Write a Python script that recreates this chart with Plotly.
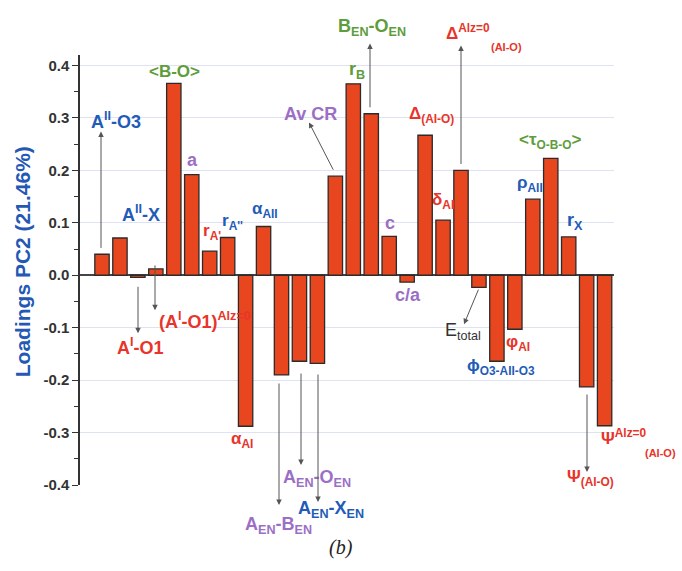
import plotly.graph_objects as go

# ---------------- data ----------------
bar_names = ["A''-O3", "A''-X", "A'-O1", "(A'-O1)Alz=0", "<B-O>", "a", "rA'", "rA''",
             "alphaAI", "alphaAII", "AEN-BEN", "AEN-OEN", "AEN-XEN", "Av CR", "rB",
             "BEN-OEN", "c", "c/a", "Delta(AI-O)", "deltaAI", "DeltaAlz=0(AI-O)",
             "Etotal", "phiO3-AII-O3", "phiAI", "rhoAII", "<tauO-B-O>", "rX",
             "Psi(AI-O)", "PsiAlz=0(AI-O)"]
loadings = [0.040, 0.071, -0.004, 0.012, 0.366, 0.192, 0.046, 0.072,
            -0.288, 0.093, -0.190, -0.164, -0.168, 0.189, 0.365,
            0.308, 0.074, -0.013, 0.267, 0.105, 0.200,
            -0.023, -0.164, -0.103, 0.145, 0.223, 0.073,
            -0.213, -0.287]
tick_vals = [-0.4, -0.3, -0.2, -0.1, 0.0, 0.1, 0.2, 0.3, 0.4]
tick_text = ["-0.4", "-0.3", "-0.2", "-0.1", "0.0", "0.1", "0.2", "0.3", "0.4"]

xs = list(range(len(loadings)))

# plot-area geometry (pixels) used for placing labels
PL, PR, PT, PB = 80.0, 614.0, 54.5, 485.0
X0, DX = 102.0, 17.95     # pixel centre of first bar, spacing
Y0, DY = 275.0, 525.0     # pixel of y=0, pixels per unit
def X(px):
    return (px - X0) / DX
def PX(px):
    return (px - PL) / (PR - PL)
def PY(py):
    return (PB - py) / (PB - PT)
def val_py(v):
    return Y0 - v * DY

BLUE = "#1f5cb8"
RED = "#e8342a"
GREEN = "#5e9c3c"
PURPLE = "#9b6fc6"
DARK = "#333333"
FONT = "Liberation Sans"
FS = 18

fig = go.Figure()
fig.add_trace(go.Bar(
    x=xs, y=loadings, width=0.8,
    marker=dict(color="#e8461f", line=dict(color="#2b2b2b", width=1.3)),
    hoverinfo="skip",
))

ann = []
def label(text, px, py, color, size=FS, bold=True):
    ann.append(dict(x=PX(px), y=PY(py), xref="paper", yref="paper", text=text,
                    showarrow=False,
                    font=dict(family=FONT, size=size, color=color,
                              weight="bold" if bold else "normal"),
                    xanchor="center", yanchor="middle"))

def arrow(tail_px, tail_py, head_px, head_py):
    ann.append(dict(x=PX(head_px), y=PY(head_py), ax=tail_px - head_px, ay=tail_py - head_py,
                    xref="paper", yref="paper", axref="pixel", ayref="pixel", text="",
                    showarrow=True, arrowhead=2, arrowsize=1.1, arrowwidth=1,
                    arrowcolor="#555555", standoff=0, startstandoff=0))

def bar_arrow(i, head_px, head_py, tail_px=None):
    v = loadings[i]
    ty = val_py(v) + (-5 if v >= 0 else 8)
    tx = X0 + xs[i] * DX if tail_px is None else tail_px
    arrow(tx, ty, head_px, head_py)

# labels
label("A<sup>II</sup>-O3", 116, 120, BLUE)
bar_arrow(0, 101, 131, 101)
label("A<sup>II</sup>-X", 141, 213, BLUE)
label("A<sup>I</sup>-O1", 140, 346, RED)
bar_arrow(2, 138, 333, 138)
label("(A<sup>I</sup>-O1)<sup>Alz=0</sup>", 205, 320, RED)
bar_arrow(3, 155, 310, 155)
label("&lt;B-O&gt;", 174, 71, GREEN, 17)
label("a", 192, 160, PURPLE)
label("r<sub>A'</sub>", 212, 232, RED, 17)
label("r<sub>A''</sub>", 232, 222, BLUE, 17)
label("α<sub>AI</sub>", 242, 440, RED, 17)
label("α<sub>AII</sub>", 265, 210, BLUE, 17)
label("A<sub>EN</sub>-B<sub>EN</sub>", 278, 526, PURPLE)
arrow(279, 382, 279, 505)
label("A<sub>EN</sub>-O<sub>EN</sub>", 317, 478, PURPLE)
arrow(301, 372, 301, 465)
label("A<sub>EN</sub>-X<sub>EN</sub>", 331, 510, BLUE)
arrow(318, 373, 318, 502)
label("Av CR", 310, 114, PURPLE)
bar_arrow(13, 309, 122, 334)
label("r<sub>B</sub>", 357, 70, GREEN)
label("B<sub>EN</sub>-O<sub>EN</sub>", 372, 27, GREEN)
bar_arrow(15, 370, 43, 370)
label("c", 390, 223, PURPLE)
label("c/a", 408, 295, PURPLE)
label("Δ<sub>(AI-O)</sub>", 432, 115, RED, 17)
label("δ<sub>AI</sub>", 443, 201, RED, 17)
label("Δ<sup>Alz=0</sup>", 468, 31, RED, 17)
label("(AI-O)", 506, 46, RED, 11)
bar_arrow(20, 461, 45, 461)
label("E<sub>total</sub>", 463, 331, DARK, 18, bold=False)
arrow(479, 288, 464, 324)
label("ϕ<sub>O3-AII-O3</sub>", 501, 367, BLUE, 17)
label("φ<sub>AI</sub>", 518, 343, RED, 17)
label("ρ<sub>AII</sub>", 530, 184, BLUE, 17)
label("&lt;τ<sub>O-B-O</sub>&gt;", 550, 141, GREEN, 17)
label("r<sub>X</sub>", 575, 221, BLUE)
label("Ψ<sub>(AI-O)</sub>", 590, 478, RED, 17)
arrow(587, 393, 587, 472)
label("Ψ<sup>Alz=0</sup>", 624, 437, RED, 17)
label("(AI-O)", 660, 453, RED, 11)

# axis title and caption
ann.append(dict(x=PX(22), y=PY(262), xref="paper", yref="paper",
                text="Loadings PC2 (21.46%)", textangle=-90, showarrow=False,
                font=dict(family=FONT, size=21, color="#2458b5", weight="bold"),
                xanchor="center", yanchor="middle"))
ann.append(dict(x=PX(341), y=PY(548), xref="paper", yref="paper", text="(b)",
                showarrow=False, font=dict(family="Liberation Serif", size=20,
                                           color="#222", style="italic"),
                xanchor="center", yanchor="middle"))

fig.update_layout(
    width=682, height=571,
    margin=dict(l=80, r=68, t=54.5, b=86),
    paper_bgcolor="white", plot_bgcolor="white",
    showlegend=False,
    annotations=ann,
    xaxis=dict(range=[X(PL), X(PR)], showgrid=False, zeroline=False,
               showticklabels=False, ticks="", showline=False, fixedrange=True),
    yaxis=dict(range=[-0.4, 0.42], tickvals=tick_vals, ticktext=tick_text,
               showgrid=True, gridcolor="#dfe2f2", gridwidth=1,
               zeroline=True, zerolinecolor="#444444", zerolinewidth=1.5,
               showline=True, linecolor="#333333", linewidth=1.5,
               ticks="outside", ticklen=6, tickwidth=1.3, tickcolor="#333333",
               minor=dict(dtick=0.05, ticks="outside", ticklen=4, tickwidth=1.2,
                          tickcolor="#333333", showgrid=False),
               tickfont=dict(family=FONT, size=15, color="#333333", weight="bold")),
)

fig.write_html("out.html")
